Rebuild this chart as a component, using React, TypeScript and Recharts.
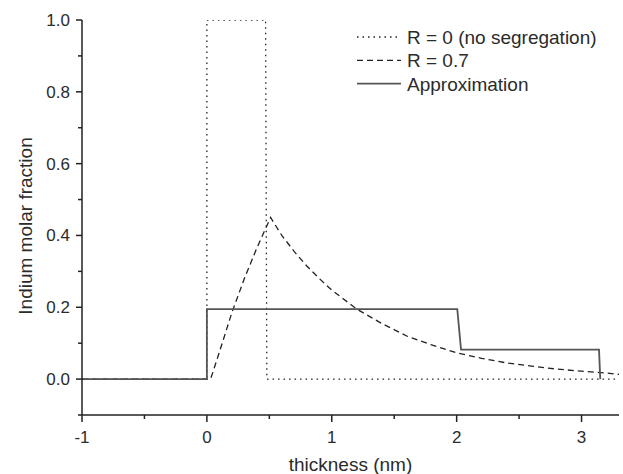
import React from "react";
import { LineChart, Line, XAxis, YAxis } from "recharts";

// R = 0 (no segregation): rectangular profile
const flatX = [-1, 0, 0, 0.47, 0.48, 3.3];
const flatY = [0, 0, 1, 1, 0, 0];

// R = 0.7: segregation profile
const segX = [-1, 0.03, 0.1, 0.2, 0.3, 0.4, 0.51, 0.6, 0.7, 0.8, 0.9, 1.0, 1.2, 1.4, 1.6, 1.8, 2.0, 2.2, 2.4, 2.6, 2.8, 3.0, 3.2, 3.3];
const segY = [0, 0, 0.075, 0.185, 0.28, 0.365, 0.45, 0.4, 0.355, 0.315, 0.28, 0.248, 0.195, 0.155, 0.12, 0.095, 0.073, 0.058, 0.045, 0.036, 0.028, 0.022, 0.017, 0.013];

// Approximation: step profile
const apxX = [-1, 0, 0, 2.005, 2.035, 3.14, 3.15];
const apxY = [0, 0, 0.195, 0.195, 0.082, 0.082, 0];

const xTicks = [-1, -0.5, 0, 0.5, 1, 1.5, 2, 2.5, 3];
const yTicks = [-0.1, 0, 0.1, 0.2, 0.3, 0.4, 0.5, 0.6, 0.7, 0.8, 0.9, 1.0];

const seriesNames = ["R = 0 (no segregation)", "R = 0.7", "Approximation"];

const FONT = "'Liberation Sans', Arial, sans-serif";
const INK = "#222";
const TEXT = "#2b2b2b";

const toPoints = (xs: number[], ys: number[]) => xs.map((x, i) => ({ x, y: ys[i] }));

const flatData = toPoints(flatX, flatY);
const segData = toPoints(segX, segY);
const apxData = toPoints(apxX, apxY);

const styles = [
    { stroke: INK, width: 1.3, dash: "1.5 4" },
    { stroke: INK, width: 1.3, dash: "6 4" },
    { stroke: "#555", width: 1.8, dash: undefined as string | undefined },
];

const XTick = (props: any) => {
    const { x, y, payload } = props;
    const v = payload.value as number;
    const major = Number.isInteger(v);
    return (
        <g>
            <line x1={x} y1={y} x2={x} y2={y + (major ? 7 : 4)} stroke={INK} strokeWidth={1.5} />
            {major && (
                <text x={x} y={y + 27.5} textAnchor="middle" fontSize={17} fontFamily={FONT} fill={TEXT}>
                    {v}
                </text>
            )}
        </g>
    );
};

const YTick = (props: any) => {
    const { x, y, payload } = props;
    const v = payload.value as number;
    const major = Math.round(v * 10) % 2 === 0 && v >= 0;
    return (
        <g>
            <line x1={x} y1={y} x2={x - (major ? 6 : 4)} y2={y} stroke={INK} strokeWidth={1.5} />
            {major && (
                <text x={x - 12} y={y + 6} textAnchor="end" fontSize={17} fontFamily={FONT} fill={TEXT}>
                    {v.toFixed(1)}
                </text>
            )}
        </g>
    );
};

const LegendBox = () => (
    <svg width={265} height={80} style={{ position: "absolute", left: 355, top: 25 }}>
        {seriesNames.map((name, i) => {
            const cy = 12 + i * 23.3;
            const s = styles[i];
            return (
                <g key={name}>
                    <line x1={2} y1={cy} x2={46} y2={cy} stroke={s.stroke} strokeWidth={s.width} strokeDasharray={s.dash} />
                    <text x={52} y={cy + 7} fontSize={19} fontFamily={FONT} fill={TEXT}>
                        {name}
                    </text>
                </g>
            );
        })}
    </svg>
);

export default function App() {
    return (
        <div style={{ position: "absolute", left: 0, top: 0, width: 623, height: 474, background: "#fff" }}>
            <LineChart width={623} height={474} margin={{ top: 20, right: 4, bottom: 0, left: 0 }}>
                <XAxis
                    type="number"
                    dataKey="x"
                    domain={[-1, 3.3]}
                    ticks={xTicks}
                    interval={0}
                    allowDataOverflow
                    height={59}
                    tickSize={0}
                    tickMargin={0}
                    tickLine={false}
                    axisLine={{ stroke: INK, strokeWidth: 1.5 }}
                    tick={<XTick />}
                    label={{
                        content: (p: any) => (
                            <text x={p.viewBox.x + p.viewBox.width / 2} y={p.viewBox.y + 56} textAnchor="middle" fontSize={19} fontFamily={FONT} fill={TEXT}>
                                thickness (nm)
                            </text>
                        ),
                    }}
                />
                <YAxis
                    type="number"
                    dataKey="y"
                    domain={[-0.1, 1.0]}
                    ticks={yTicks}
                    interval={0}
                    allowDataOverflow
                    width={82}
                    tickSize={0}
                    tickMargin={0}
                    tickLine={false}
                    axisLine={{ stroke: INK, strokeWidth: 1.5 }}
                    tick={<YTick />}
                    label={{
                        content: () => (
                            <text transform="translate(31.5,226) rotate(-90)" textAnchor="middle" fontSize={19} fontFamily={FONT} fill={TEXT}>
                                Indium molar fraction
                            </text>
                        ),
                    }}
                />
                <Line data={flatData} dataKey="y" name={seriesNames[0]} type="linear" stroke={styles[0].stroke} strokeWidth={styles[0].width} strokeDasharray={styles[0].dash} dot={false} activeDot={false} isAnimationActive={false} />
                <Line data={segData} dataKey="y" name={seriesNames[1]} type="linear" stroke={styles[1].stroke} strokeWidth={styles[1].width} strokeDasharray={styles[1].dash} dot={false} activeDot={false} isAnimationActive={false} />
                <Line data={apxData} dataKey="y" name={seriesNames[2]} type="linear" stroke={styles[2].stroke} strokeWidth={styles[2].width} dot={false} activeDot={false} isAnimationActive={false} />
            </LineChart>
            <LegendBox />
        </div>
    );
}
